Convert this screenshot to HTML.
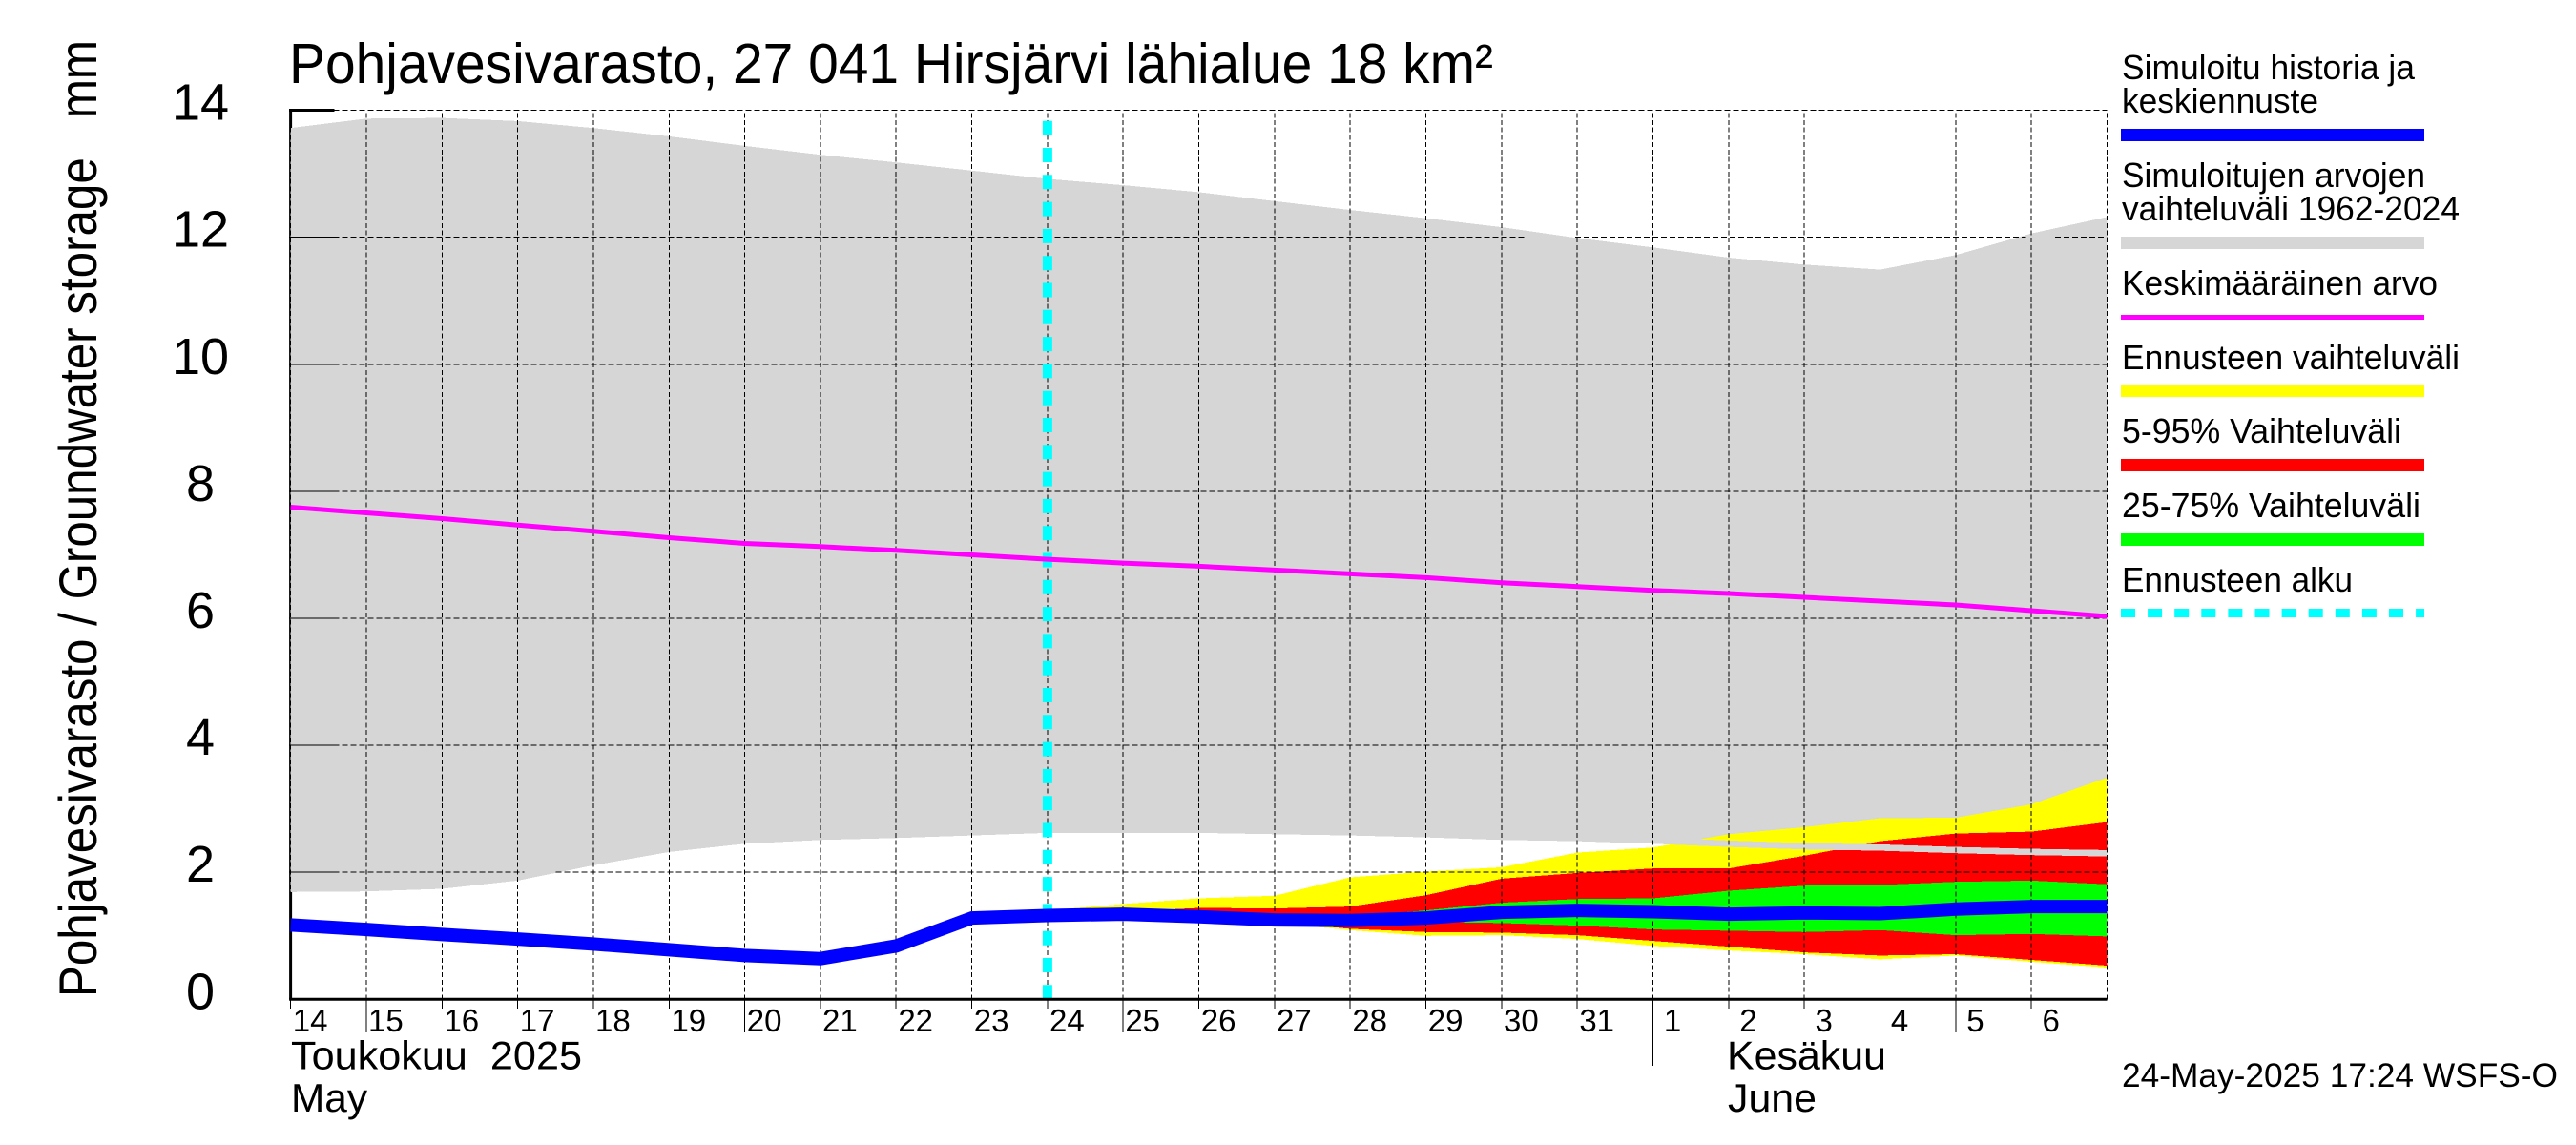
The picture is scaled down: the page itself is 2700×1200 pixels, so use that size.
<!DOCTYPE html>
<html lang="fi">
<head>
<meta charset="utf-8">
<title>Pohjavesivarasto</title>
<style>
html,body{margin:0;padding:0;background:#fff;}
svg{display:block;}
text{font-family:"Liberation Sans",sans-serif;fill:#000;white-space:pre;}
</style>
</head>
<body>
<svg id="chart" xmlns="http://www.w3.org/2000/svg" width="2700" height="1200" viewBox="0 0 2700 1200">
  <rect x="0" y="0" width="2700" height="1200" fill="#fff"/>
  <g id="axis-under"></g>
  <g id="marks"></g>
  <g id="labels"></g>

  <text x="303" y="87" font-size="59" textLength="1262" lengthAdjust="spacingAndGlyphs">Pohjavesivarasto, 27 041 Hirsjärvi lähialue 18 km²</text>
  <text transform="translate(101,1045) rotate(-90)" font-size="56" textLength="1003" lengthAdjust="spacingAndGlyphs">Pohjavesivarasto / Groundwater storage   mm</text>

  <text x="305" y="1120.5" font-size="42" textLength="305" lengthAdjust="spacingAndGlyphs">Toukokuu  2025</text>
  <text x="305" y="1165" font-size="42" textLength="80" lengthAdjust="spacingAndGlyphs">May</text>
  <text x="1810" y="1120.5" font-size="42" textLength="167" lengthAdjust="spacingAndGlyphs">Kesäkuu</text>
  <text x="1811" y="1165" font-size="42" textLength="93" lengthAdjust="spacingAndGlyphs">June</text>

  <g>
    <text x="2224" y="83" font-size="36" textLength="307" lengthAdjust="spacingAndGlyphs">Simuloitu historia ja</text>
    <text x="2224" y="118" font-size="36" textLength="206" lengthAdjust="spacingAndGlyphs">keskiennuste</text>
    <rect x="2223" y="135" width="318" height="13" fill="#0000ff"/>
    <text x="2224" y="196" font-size="36" textLength="318" lengthAdjust="spacingAndGlyphs">Simuloitujen arvojen</text>
    <text x="2224" y="231" font-size="36" textLength="354" lengthAdjust="spacingAndGlyphs">vaihteluväli 1962-2024</text>
    <rect x="2223" y="248" width="318" height="13" fill="#d6d6d6"/>
    <text x="2224" y="309" font-size="36" textLength="331" lengthAdjust="spacingAndGlyphs">Keskimääräinen arvo</text>
    <rect x="2223" y="330" width="318" height="5" fill="#ff00ff"/>
    <text x="2224" y="387" font-size="36" textLength="354" lengthAdjust="spacingAndGlyphs">Ennusteen vaihteluväli</text>
    <rect x="2223" y="403" width="318" height="13" fill="#ffff00"/>
    <text x="2224" y="464" font-size="36" textLength="293" lengthAdjust="spacingAndGlyphs">5-95% Vaihteluväli</text>
    <rect x="2223" y="481" width="318" height="13" fill="#ff0000"/>
    <text x="2224" y="542" font-size="36" textLength="313" lengthAdjust="spacingAndGlyphs">25-75% Vaihteluväli</text>
    <rect x="2223" y="559" width="318" height="13" fill="#00ff00"/>
    <text x="2224" y="620" font-size="36" textLength="242" lengthAdjust="spacingAndGlyphs">Ennusteen alku</text>
    <line x1="2223" y1="642.5" x2="2541" y2="642.5" stroke="#00ffff" stroke-width="9" stroke-dasharray="15 13.1"/>
  </g>

  <text x="2224" y="1139" font-size="35" textLength="457" lengthAdjust="spacingAndGlyphs">24-May-2025 17:24 WSFS-O</text>
</svg>
<script>
// Day labels along the x axis
const dayLabels = ["14","15","16","17","18","19","20","21","22","23","24","25","26","27","28","29","30","31","1","2","3","4","5","6"];
const yTicks = [0,2,4,6,8,10,12,14];
const longTickDays = ["15","20","25","5"];
const monthTickIndex = 18;
const forecastStartIndex = 10;

// Simulated history range 1962-2024 (mm), one value per day
const rangeHigh = [13.72,13.87,13.88,13.83,13.72,13.59,13.44,13.30,13.18,13.05,12.92,12.82,12.71,12.57,12.43,12.30,12.16,11.99,11.84,11.68,11.57,11.49,11.72,12.06,12.32];
const rangeLow = [1.69,1.70,1.74,1.87,2.11,2.32,2.45,2.51,2.54,2.58,2.62,2.62,2.62,2.60,2.58,2.55,2.51,2.49,2.45,2.40,2.36,2.34,2.30,2.27,2.25];
const rangeEdgeBand = 0.10;

// Long-term mean (mm)
const meanValues = [7.75,7.66,7.57,7.47,7.37,7.27,7.18,7.13,7.07,7.00,6.93,6.87,6.82,6.76,6.70,6.64,6.56,6.50,6.44,6.39,6.33,6.27,6.21,6.12,6.03];

// Simulated history and median forecast (mm)
const mainValues = [1.17,1.10,1.02,0.95,0.87,0.78,0.69,0.64,0.84,1.28,1.32,1.34,1.30,1.25,1.24,1.28,1.37,1.40,1.38,1.34,1.36,1.35,1.42,1.46,1.46];

// Forecast bands (mm), starting at the forecast start day
const forecastMaxHigh = [1.40,1.50,1.59,1.63,1.92,2.01,2.08,2.31,2.39,2.60,2.71,2.85,2.86,3.07,3.49];
const forecastMaxLow = [1.32,1.34,1.30,1.20,1.09,1.00,1.01,0.95,0.84,0.77,0.71,0.63,0.69,0.59,0.50];
const p95High = [1.32,1.38,1.44,1.43,1.46,1.64,1.90,1.99,2.06,2.06,2.26,2.49,2.61,2.64,2.79];
const p95Low = [1.32,1.34,1.30,1.22,1.11,1.06,1.05,1.01,0.92,0.83,0.74,0.69,0.71,0.62,0.53];
const p75High = [1.32,1.34,1.30,1.25,1.30,1.40,1.52,1.58,1.59,1.71,1.79,1.80,1.85,1.87,1.81];
const p75Low = [1.32,1.34,1.30,1.25,1.25,1.22,1.20,1.16,1.10,1.08,1.06,1.09,1.01,1.03,0.99];

// Breaks in horizontal grid lines [value, from day index, to day index]
const gridGapValues = [2,12,12];
const gridGapStarts = [3.09,16.32,22.93];
const gridGapEnds = [3.50,16.97,23.31];

const NS = "http://www.w3.org/2000/svg";
const plotLeft = 304.6, dayWidth = 79.33, zeroY = 1047.3, unitHeight = 66.55;
const lastIndex = rangeHigh.length - 1;
const topValue = yTicks[yTicks.length - 1];

function xAt(i){ return plotLeft + dayWidth * i; }
function yAt(v){ return zeroY - unitHeight * v; }
function create(parent, tag){
  const el = document.createElementNS(NS, tag);
  parent.appendChild(el);
  return el;
}
function bandPoints(high, low, start){
  const up = high.map((v,k) => xAt(start + k).toFixed(1) + "," + yAt(v).toFixed(1));
  const down = low.map((v,k) => xAt(start + k).toFixed(1) + "," + yAt(v).toFixed(1)).reverse();
  return up.concat(down).join(" ");
}
function linePoints(values){
  return values.map((v,k) => xAt(k).toFixed(1) + "," + yAt(v).toFixed(1)).join(" ");
}

const under = document.getElementById("axis-under");
const marks = document.getElementById("marks");
const labels = document.getElementById("labels");

// Solid left axis sits beneath the range band
const leftAxis = create(under, "line");


leftAxis.setAttribute("x1", xAt(0));
leftAxis.setAttribute("x2", xAt(0));
leftAxis.setAttribute("y1", yAt(topValue) - 1.5);
leftAxis.setAttribute("y2", yAt(0));
leftAxis.setAttribute("stroke", "#000");
leftAxis.setAttribute("stroke-width", "3");

// Range band
const rangeBand = create(marks, "polygon");


rangeBand.setAttribute("points", bandPoints(rangeHigh, rangeLow, 0));
rangeBand.setAttribute("fill", "#d6d6d6");
rangeBand.setAttribute("shape-rendering", "crispEdges");

// Forecast bands
const bandDefs = [
  [forecastMaxHigh, forecastMaxLow, "#ffff00", "forecast-range-band"],
  [p95High, p95Low, "#ff0000", "forecast-5-95-band"],
  [p75High, p75Low, "#00ff00", "forecast-25-75-band"]
];
bandDefs.forEach(function(def){
  const band = create(marks, "polygon");
  
  
  band.setAttribute("points", bandPoints(def[0], def[1], forecastStartIndex));
  band.setAttribute("fill", def[2]);
  band.setAttribute("shape-rendering", "crispEdges");
});

// Lower edge of the range band stays visible above the forecast
const edgeUpper = rangeLow.slice(forecastStartIndex).map(v => v + rangeEdgeBand);
const rangeEdge = create(marks, "polygon");


rangeEdge.setAttribute("points", bandPoints(edgeUpper, rangeLow.slice(forecastStartIndex), forecastStartIndex));
rangeEdge.setAttribute("fill", "#d6d6d6");
rangeEdge.setAttribute("shape-rendering", "crispEdges");

// Vertical grid
for (let i = 0; i <= lastIndex; i++) {
  const v = create(marks, "line");
  
  
  v.setAttribute("x1", xAt(i).toFixed(1));
  v.setAttribute("x2", xAt(i).toFixed(1));
  v.setAttribute("y1", yAt(0));
  v.setAttribute("y2", yAt(topValue));
  v.setAttribute("stroke", "#000");
  v.setAttribute("stroke-width", "1");
  v.setAttribute("stroke-dasharray", "5 2.7");
  v.setAttribute("shape-rendering", "crispEdges");
}

// Horizontal grid with solid left tick stubs
yTicks.forEach(function(tick){
  if (tick !== 0) {
    const starts = [0];
    const ends = [];
    gridGapValues.forEach(function(g, k){
      if (g === tick) {
        ends.push(gridGapStarts[k]);
        starts.push(gridGapEnds[k]);
      }
    });
    ends.push(lastIndex);
    starts.forEach(function(s, k){
      const h = create(marks, "line");
      
      
      h.setAttribute("x1", xAt(s).toFixed(1));
      h.setAttribute("x2", xAt(ends[k]).toFixed(1));
      h.setAttribute("y1", yAt(tick).toFixed(1));
      h.setAttribute("y2", yAt(tick).toFixed(1));
      h.setAttribute("stroke", "#000");
      h.setAttribute("stroke-width", "1");
      h.setAttribute("stroke-dasharray", "6 3");
      h.setAttribute("shape-rendering", "crispEdges");
    });
    const stub = create(marks, "line");
    
    
    stub.setAttribute("x1", xAt(0) - 1.5);
    stub.setAttribute("x2", xAt(0) + 46);
    stub.setAttribute("y1", yAt(tick).toFixed(1));
    stub.setAttribute("y2", yAt(tick).toFixed(1));
    stub.setAttribute("stroke", "#000");
    stub.setAttribute("stroke-width", tick === topValue ? "3" : "1");
    stub.setAttribute("shape-rendering", "crispEdges");
  }
  const label = create(labels, "text");
  
  
  label.setAttribute("x", "210");
  label.setAttribute("y", (yAt(tick) + 10).toFixed(1));
  label.setAttribute("text-anchor", "middle");
  label.setAttribute("font-size", "54");
  label.textContent = String(tick);
});

// Forecast start line
const startLine = create(marks, "line");


startLine.setAttribute("x1", xAt(forecastStartIndex).toFixed(1));
startLine.setAttribute("x2", xAt(forecastStartIndex).toFixed(1));
startLine.setAttribute("y1", yAt(0));
startLine.setAttribute("y2", "126.4");
startLine.setAttribute("stroke", "#00ffff");
startLine.setAttribute("stroke-width", "10");
startLine.setAttribute("stroke-dasharray", "15 13.3");

// Mean line
const meanLine = create(marks, "polyline");


meanLine.setAttribute("points", linePoints(meanValues));
meanLine.setAttribute("fill", "none");
meanLine.setAttribute("stroke", "#ff00ff");
meanLine.setAttribute("stroke-width", "5");

// Main series
const mainLine = create(marks, "polyline");


mainLine.setAttribute("points", linePoints(mainValues));
mainLine.setAttribute("fill", "none");
mainLine.setAttribute("stroke", "#0000ff");
mainLine.setAttribute("stroke-width", "14");
mainLine.setAttribute("stroke-linejoin", "miter");

// Bottom axis
const bottomAxis = create(marks, "line");


bottomAxis.setAttribute("x1", xAt(0) - 1.5);
bottomAxis.setAttribute("x2", xAt(lastIndex).toFixed(1));
bottomAxis.setAttribute("y1", yAt(0));
bottomAxis.setAttribute("y2", yAt(0));
bottomAxis.setAttribute("stroke", "#000");
bottomAxis.setAttribute("stroke-width", "3");

// Day ticks and labels
dayLabels.forEach(function(day, i){
  let tickEnd = 1057;
  if (i === monthTickIndex) {
    tickEnd = 1117;
  } else if (longTickDays.indexOf(day) >= 0) {
    tickEnd = 1082;
  }
  const t = create(labels, "line");
  
  
  t.setAttribute("x1", xAt(i).toFixed(1));
  t.setAttribute("x2", xAt(i).toFixed(1));
  t.setAttribute("y1", yAt(0));
  t.setAttribute("y2", tickEnd);
  t.setAttribute("stroke", "#000");
  t.setAttribute("stroke-width", "1");
  t.setAttribute("shape-rendering", "crispEdges");
  const label = create(labels, "text");
  
  
  label.setAttribute("x", (xAt(i) + 20.5).toFixed(1));
  label.setAttribute("y", "1081");
  label.setAttribute("text-anchor", "middle");
  label.setAttribute("font-size", "33");
  label.textContent = day;
});
</script>
</body>
</html>
